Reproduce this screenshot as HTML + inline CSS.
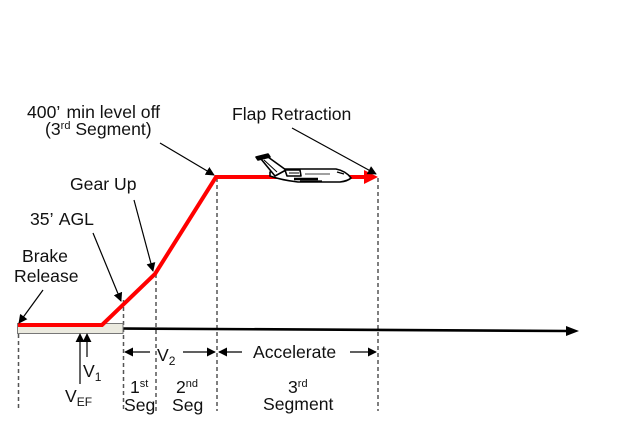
<!DOCTYPE html>
<html><head><meta charset="utf-8"><style>
html,body{margin:0;padding:0;background:#fff;}
svg{display:block;}
text{font-family:"Liberation Sans",Arial,sans-serif;font-size:17.6px;fill:#111;}
.sup{font-size:11px;}
.sub{font-size:12px;}
</style></head><body>
<svg width="640" height="427" viewBox="0 0 640 427" xmlns="http://www.w3.org/2000/svg">
<defs>
<marker id="ah" viewBox="0 0 10 10" refX="9" refY="5" markerWidth="9" markerHeight="9" markerUnits="userSpaceOnUse" orient="auto"><path d="M0,0 L10,5 L0,10 Z" fill="#000"/></marker>
</defs>

<!-- dashed verticals -->
<g stroke="#555" stroke-width="1.5" stroke-dasharray="4,3" fill="none">
<line x1="18.5" y1="334" x2="18.5" y2="411"/>
<line x1="123.5" y1="300" x2="123.5" y2="411"/>
<line x1="156" y1="274" x2="156" y2="411"/>
<line x1="217" y1="178" x2="217" y2="411"/>
<line x1="378" y1="178" x2="378" y2="411"/>
</g>

<!-- axis -->
<line x1="123" y1="328.5" x2="568" y2="331" stroke="#000" stroke-width="2.6"/>
<path d="M566,326 L579,331 L566,336 Z" fill="#000"/>

<!-- runway -->
<rect x="17.5" y="323.5" width="105.5" height="10" fill="#ebeadf" stroke="#777" stroke-width="1"/>

<!-- red profile -->
<polyline points="18,325 102,325 155,274 216,177 366,177" fill="none" stroke="#ff0000" stroke-width="4" stroke-linejoin="miter"/>

<!-- plane -->
<g stroke="#000" stroke-width="1.6" fill="#fff" stroke-linejoin="round">
<path d="M270,172 L285,169 L336,169 Q346,171 351,178 Q348,181 340,182 L298,182 Q281,180 270,176 Z"/>
<path d="M261,159 L268,157 L286,170 L275,176 Z"/>
<path d="M256,157 L268,154 L270,157 L258,160 Z" fill="#000"/>
<path d="M264,160 L277,172" fill="none" stroke-width="1"/>
<path d="M285,170 L300,170 L301,176 L287,176 Z"/>
<path d="M289,173 L299,173" fill="none" stroke-width="1"/>
<path d="M294,179 L318,179" fill="none" stroke-width="2.4"/>
<path d="M300,181 L322,181" fill="none" stroke-width="1.2"/>
<path d="M305,174 L330,174" fill="none" stroke-width="0.8"/>
<path d="M337,172 L344,174" fill="none" stroke-width="1.4"/>
</g>

<!-- red arrowhead -->
<path d="M364,170 L378,177 L364,184 Z" fill="#ff0000"/>

<!-- callout arrows -->
<g stroke="#000" stroke-width="1.2" fill="none">
<line x1="160" y1="143" x2="214" y2="175" marker-end="url(#ah)"/>
<line x1="134" y1="200" x2="153" y2="271" marker-end="url(#ah)"/>
<line x1="93" y1="233" x2="121" y2="301" marker-end="url(#ah)"/>
<line x1="43" y1="290" x2="19" y2="323" marker-end="url(#ah)"/>
<line x1="292" y1="128" x2="376" y2="174" marker-end="url(#ah)"/>
<!-- V arrows -->
<line x1="80" y1="384" x2="80" y2="334" marker-end="url(#ah)"/>
<line x1="87" y1="357" x2="87" y2="334" marker-end="url(#ah)"/>
<!-- V2 -->
<line x1="150" y1="352" x2="125" y2="352" marker-end="url(#ah)"/>
<line x1="183" y1="352" x2="215" y2="352" marker-end="url(#ah)"/>
<!-- accelerate -->
<line x1="242" y1="352" x2="219" y2="352" marker-end="url(#ah)"/>
<line x1="350" y1="352" x2="376" y2="352" marker-end="url(#ah)"/>
</g>

<!-- labels -->
<text x="27" y="118">400’ <tspan dx="2">min level off</tspan></text>
<text x="45" y="135">(3<tspan class="sup" dy="-6">rd</tspan><tspan dy="6"> Segment)</tspan></text>
<text x="70" y="190">Gear Up</text>
<text x="30" y="225">35’ <tspan dx="2">AGL</tspan></text>
<text x="22" y="262">Brake</text>
<text x="14" y="282">Release</text>
<text x="232" y="120">Flap Retraction</text>

<text x="83" y="377">V<tspan class="sub" dy="4">1</tspan></text>
<text x="65" y="402">V<tspan class="sub" dy="4">EF</tspan></text>
<text x="157" y="361">V<tspan class="sub" dy="4">2</tspan></text>
<text x="253" y="358">Accelerate</text>

<text x="130" y="393">1<tspan class="sup" dy="-6">st</tspan></text>
<text x="124" y="411">Seg</text>
<text x="176" y="393">2<tspan class="sup" dy="-6">nd</tspan></text>
<text x="172" y="411">Seg</text>
<text x="288" y="393">3<tspan class="sup" dy="-6">rd</tspan></text>
<text x="263" y="410">Segment</text>
</svg>
</body></html>
